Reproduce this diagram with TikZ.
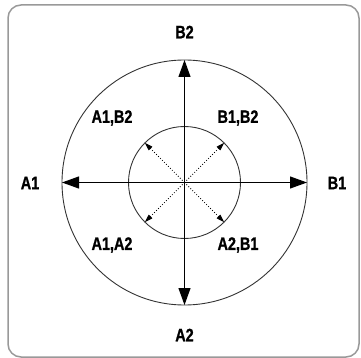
\documentclass[tikz,border=0pt]{standalone}
\usepackage{fontspec}
\setmainfont{Liberation Sans}
\newfontfamily\lblfont[FakeBold=1.2]{Liberation Sans Bold}
\usetikzlibrary{arrows.meta}
\newcommand{\narrowtxt}[1]{\scalebox{0.8}[1]{\fontsize{18}{20}\lblfont #1}}
\begin{document}
\begin{tikzpicture}[x=1pt,y=-1pt,
  lbl/.style={inner sep=0pt},
  bigarrow/.style={line width=1pt, -{Triangle[length=17pt,width=12pt]}},
  smallarrow/.style={line width=0.8pt, dotted, -{Triangle[length=8pt,width=5pt]}},
  ring/.style={line width=0.9pt, draw=black!80}]
\useasboundingbox (0,0) rectangle (361,358);
\draw[line width=1.5pt, draw=black!40, rounded corners=13pt] (8,5) rectangle (359,357);
\coordinate (c) at (184.5,182.5);
\draw[ring] (c) circle[radius=122.5];
\draw[ring] (c) circle[radius=56];
\coordinate (top) at (184.5,60);
\coordinate (bot) at (184.5,305);
\coordinate (lft) at (62,182.5);
\coordinate (rgt) at (307,182.5);
\draw[bigarrow] (c) -- (top);
\draw[bigarrow] (c) -- (bot);
\draw[bigarrow] (c) -- (lft);
\draw[bigarrow] (c) -- (rgt);
\coordinate (ne) at (224.1,142.9);
\coordinate (nw) at (144.9,142.9);
\coordinate (se) at (224.1,222.1);
\coordinate (sw) at (144.9,222.1);
\draw[smallarrow] (c) -- (ne);
\draw[smallarrow] (c) -- (nw);
\draw[smallarrow] (c) -- (se);
\draw[smallarrow] (c) -- (sw);
\node[lbl] (lB2) at (184.5,32) {\narrowtxt{B2}};
\node[lbl] (lA2) at (184.5,335) {\narrowtxt{A2}};
\node[lbl] (lA1) at (30,183) {\narrowtxt{A1}};
\node[lbl] (lB1) at (337,183) {\narrowtxt{B1}};
\node[lbl] (lA1B2) at (112,118) {\narrowtxt{A1,B2}};
\node[lbl] (lB1B2) at (238,118) {\narrowtxt{B1,B2}};
\node[lbl] (lA1A2) at (112,245) {\narrowtxt{A1,A2}};
\node[lbl] (lA2B1) at (238,245) {\narrowtxt{A2,B1}};
\end{tikzpicture}
\end{document}
